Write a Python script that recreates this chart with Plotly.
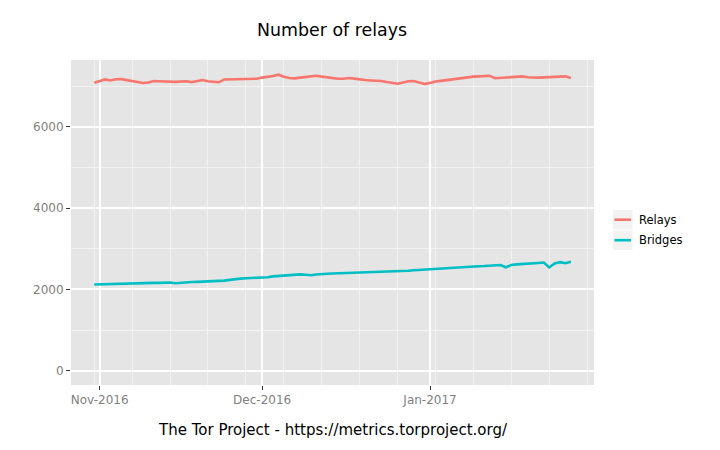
import pandas as pd
import plotly.graph_objects as go

# Daily values, 2016-10-31 .. 2017-01-27
dates = pd.date_range("2016-10-31", "2017-01-27", freq="D")

relays = [
    7085, 7130, 7165, 7140, 7170, 7172, 7150, 7120, 7095, 7078,
    7090, 7125, 7120, 7110, 7100, 7105, 7115, 7120, 7100, 7125,
    7150, 7120, 7110, 7095, 7165, 7170, 7170, 7165, 7170, 7175,
    7183, 7210, 7225, 7250, 7282, 7230, 7200, 7190, 7210, 7230,
    7245, 7255, 7235, 7215, 7195, 7180, 7180, 7200, 7185, 7160,
    7150, 7140, 7135, 7125, 7100, 7075, 7060, 7090, 7120, 7125,
    7085, 7053, 7080, 7115, 7130, 7150, 7170, 7185, 7210, 7225,
    7235, 7240, 7245, 7255, 7195, 7205, 7215, 7230, 7245, 7240,
    7220, 7210, 7210, 7215, 7220, 7225, 7245, 7240, 7200,
]

bridges = [
    2120, 2125, 2130, 2135, 2140, 2145, 2150, 2152, 2155, 2155,
    2157, 2160, 2160, 2165, 2170, 2150, 2165, 2175, 2180, 2185,
    2190, 2195, 2200, 2205, 2215, 2235, 2255, 2265, 2275, 2280,
    2285, 2288, 2300, 2320, 2330, 2340, 2350, 2360, 2370, 2360,
    2347, 2365, 2380, 2386, 2390, 2395, 2398, 2400, 2402, 2405,
    2403, 2410, 2420, 2430, 2436, 2440, 2445, 2450, 2460, 2470,
    2480, 2490, 2500, 2505, 2510, 2520, 2530, 2540, 2550, 2560,
    2565, 2570, 2575, 2580, 2590, 2600, 2545, 2600, 2615, 2620,
    2630, 2640, 2650, 2660, 2540, 2640, 2670, 2645, 2680,
]

series_names = ["Relays", "Bridges"]
series_colors = ["#F8766D", "#00BFC4"]

fig = go.Figure()
for name, vals, col in zip(series_names, [relays, bridges], series_colors):
    fig.add_trace(go.Scatter(x=dates, y=vals, mode="lines", name=name,
                             line=dict(color=col, width=2.6), showlegend=False))

tick_font = dict(family="DejaVu Sans", size=12, color="#7F7F7F")

fig.update_xaxes(
    range=["2016-10-26 17:00", "2017-01-31 06:30"],
    tick0="2016-11-01", dtick="M1", tickformat="%b-%Y",
    showgrid=True, gridcolor="white", gridwidth=1.5,
    minor=dict(tick0="2016-10-31", dtick=7 * 86400000, showgrid=True,
               gridcolor="#F2F2F2", gridwidth=1, ticks=""),
    ticks="outside", ticklen=4, tickwidth=1, tickcolor="#333333",
    tickfont=tick_font, showline=False, zeroline=False,
)
fig.update_yaxes(
    range=[-352, 7643], tick0=0, dtick=2000,
    showgrid=True, gridcolor="white", gridwidth=1.5,
    minor=dict(dtick=1000, showgrid=True, gridcolor="#F2F2F2",
               gridwidth=1, ticks=""),
    ticks="outside", ticklen=4, tickwidth=1, tickcolor="#333333",
    tickfont=tick_font, showline=False, zeroline=False,
)

# the page body adds an 8px offset, so everything is placed 8px up/left
off = 8
px_l, px_r = 70.7 - off, 594 - off
px_t, px_b = 60 - off, 385 - off
px_w, px_h = px_r - px_l, px_b - px_t

def px_x(x):
    return (x - off - px_l) / px_w

def px_y(y):
    return 1 - (y - off - px_t) / px_h

# legend drawn by hand to get ggplot-style keys
shapes = []
annotations = []
key_tops = [210, 230.5]
for i, (name, col) in enumerate(zip(series_names, series_colors)):
    top = key_tops[i]
    shapes.append(dict(type="rect", xref="paper", yref="paper",
                       x0=px_x(613), x1=px_x(632.5), y0=px_y(top + 19.5), y1=px_y(top),
                       fillcolor="#F2F2F2", line=dict(width=0), layer="below"))
    shapes.append(dict(type="line", xref="paper", yref="paper",
                       x0=px_x(614.5), x1=px_x(631), y0=px_y(top + 9.7), y1=px_y(top + 9.7),
                       line=dict(color=col, width=2.6)))
    annotations.append(dict(text=name, xref="paper", yref="paper",
                            x=px_x(637), y=px_y(top + 9.7), xanchor="left", yanchor="middle",
                            showarrow=False,
                            font=dict(family="DejaVu Sans", size=11.5, color="black")))

annotations.append(dict(text="The Tor Project - https://metrics.torproject.org/",
                        xref="paper", yref="paper", x=0.5, y=px_y(430),
                        xanchor="center", yanchor="middle", showarrow=False,
                        font=dict(family="DejaVu Sans", size=15, color="black")))

fig.update_layout(
    width=720, height=450,
    margin=dict(l=px_l, r=720 - px_r, t=px_t, b=450 - px_b),
    paper_bgcolor="white", plot_bgcolor="#E5E5E5",
    title=dict(text="Number of relays", x=(332 - off) / 720, xanchor="center",
               y=1 - (30 - off) / 450, yanchor="middle",
               font=dict(family="DejaVu Sans", size=17.4, color="black")),
    shapes=shapes, annotations=annotations,
    showlegend=False,
)

fig.write_html("out.html")
